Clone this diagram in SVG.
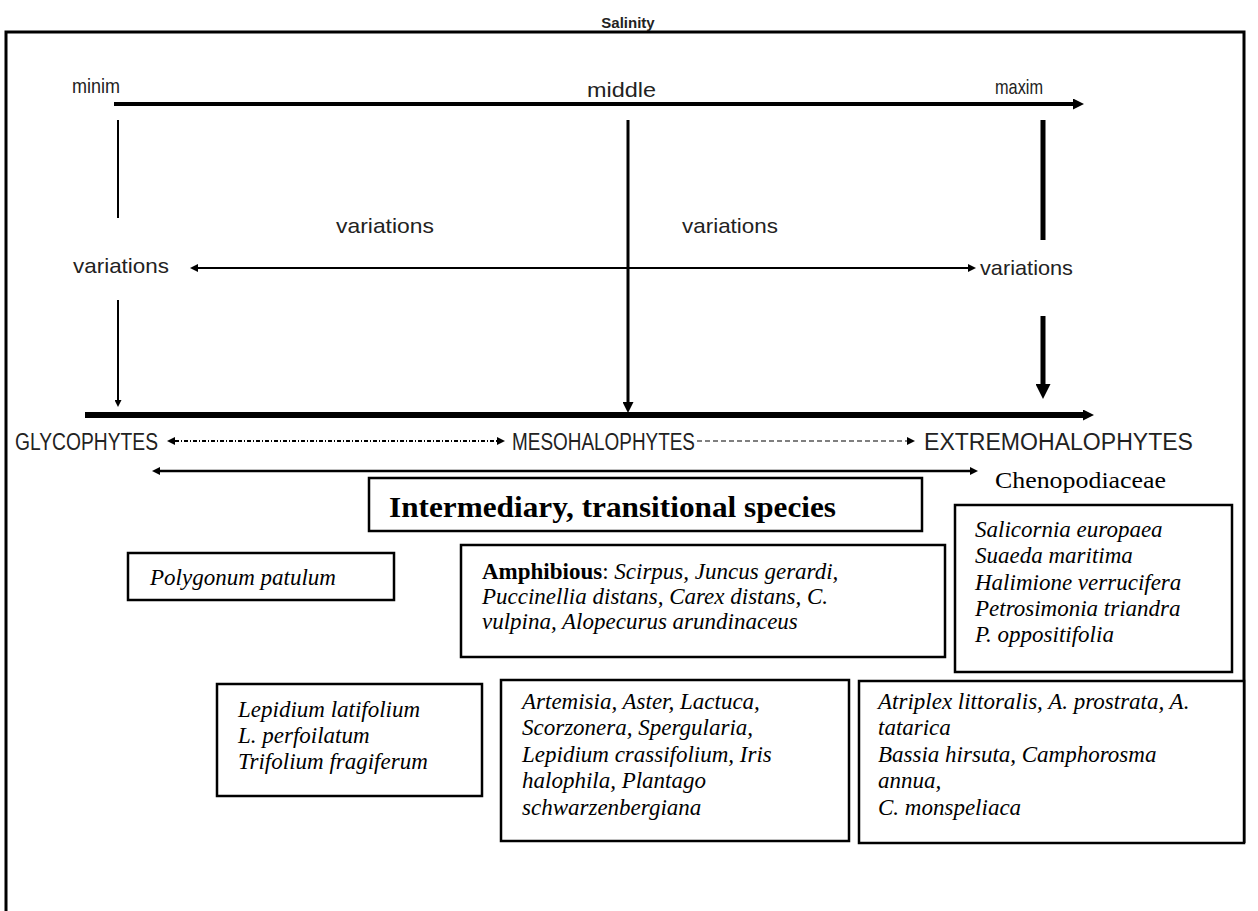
<svg xmlns="http://www.w3.org/2000/svg" width="1258" height="911" viewBox="0 0 1258 911">
<style>
.sans{font-family:"Liberation Sans",Arial,sans-serif;fill:#222;}
.lbl{font-size:21px;}
.cls{font-size:23px;}
.ser{font-family:"Liberation Serif","Times New Roman",serif;fill:#000;}
.it{font-style:italic;font-size:23px;}
.box{fill:#fff;stroke:#000;stroke-width:2.5;}
.ln{stroke:#000;fill:none;}
</style>
<defs>
<marker id="ms" viewBox="0 0 10 10" refX="0" refY="5" markerWidth="10" markerHeight="8" markerUnits="userSpaceOnUse" orient="auto-start-reverse"><path d="M0,0 L10,5 L0,10 z" fill="#000"/></marker>
<marker id="mt" viewBox="0 0 10 10" refX="0" refY="5" markerWidth="12" markerHeight="7" markerUnits="userSpaceOnUse" orient="auto-start-reverse"><path d="M0,0 L10,5 L0,10 z" fill="#000"/></marker>
<marker id="mm" viewBox="0 0 10 10" refX="0" refY="5" markerWidth="14" markerHeight="11" markerUnits="userSpaceOnUse" orient="auto-start-reverse"><path d="M0,0 L10,5 L0,10 z" fill="#000"/></marker>
<marker id="ml" viewBox="0 0 10 10" refX="0" refY="5" markerWidth="22" markerHeight="15" markerUnits="userSpaceOnUse" orient="auto-start-reverse"><path d="M0,0 L10,5 L0,10 z" fill="#000"/></marker>
</defs>
<rect width="1258" height="911" fill="#fff"/>
<g id="frame">
<path d="M6,915 L6,32 L1244,32 L1244,843" class="ln" stroke-width="3"/>
<text x="628" y="28" text-anchor="middle" class="sans" font-size="15" font-weight="bold">Salinity</text>
</g>
<g id="connectors">
<line x1="114" y1="104" x2="1073" y2="104" class="ln" stroke-width="4" marker-end="url(#mm)"/>
<line x1="118" y1="120" x2="118" y2="218" class="ln" stroke-width="2"/>
<line x1="118" y1="300" x2="118" y2="400" class="ln" stroke-width="2" marker-end="url(#mt)"/>
<line x1="628" y1="120" x2="628" y2="402" class="ln" stroke-width="3" marker-end="url(#mm)"/>
<line x1="1043" y1="120" x2="1043" y2="240" class="ln" stroke-width="5"/>
<line x1="1043" y1="316" x2="1043" y2="384" class="ln" stroke-width="5" marker-end="url(#ml)"/>
<line x1="198" y1="268" x2="968" y2="268" class="ln" stroke-width="2" marker-start="url(#ms)" marker-end="url(#ms)"/>
<line x1="85" y1="415" x2="1083" y2="415" class="ln" stroke-width="6" marker-end="url(#mm)"/>
<line x1="175" y1="441" x2="497" y2="441" class="ln" stroke-width="2" stroke-dasharray="4 2 1 2" marker-start="url(#ms)" marker-end="url(#ms)"/>
<line x1="697" y1="441" x2="907" y2="441" stroke="#555" stroke-width="1.5" stroke-dasharray="5 3" marker-end="url(#ms)"/>
<line x1="160" y1="471" x2="970" y2="471" class="ln" stroke-width="2.5" marker-start="url(#ms)" marker-end="url(#ms)"/>
</g>
<g id="labels">
<text x="72" y="93" class="sans lbl" textLength="48" lengthAdjust="spacingAndGlyphs">minim</text>
<text x="587" y="97" class="sans lbl" textLength="69" lengthAdjust="spacingAndGlyphs">middle</text>
<text x="995" y="94" class="sans lbl" textLength="48" lengthAdjust="spacingAndGlyphs">maxim</text>
<text x="336" y="233" class="sans lbl" textLength="98" lengthAdjust="spacingAndGlyphs">variations</text>
<text x="682" y="233" class="sans lbl" textLength="96" lengthAdjust="spacingAndGlyphs">variations</text>
<text x="73" y="273" class="sans lbl" textLength="96" lengthAdjust="spacingAndGlyphs">variations</text>
<text x="980" y="275" class="sans lbl" textLength="93" lengthAdjust="spacingAndGlyphs">variations</text>
</g>
<g id="glycophytes"><text x="15" y="450" class="sans cls" textLength="143" lengthAdjust="spacingAndGlyphs">GLYCOPHYTES</text></g>
<g id="mesohalophytes"><text x="512" y="450" class="sans cls" textLength="183" lengthAdjust="spacingAndGlyphs">MESOHALOPHYTES</text></g>
<g id="extremohalophytes"><text x="924" y="450" class="sans cls" textLength="269" lengthAdjust="spacingAndGlyphs">EXTREMOHALOPHYTES</text></g>
<g id="chenopodiaceae"><text x="995" y="488" class="ser" font-size="24" textLength="171" lengthAdjust="spacingAndGlyphs">Chenopodiaceae</text></g>
<g id="intermediary">
<rect x="369" y="478" width="553" height="53" class="box"/>
<text x="389" y="517" class="ser" font-size="29" font-weight="bold" textLength="447" lengthAdjust="spacingAndGlyphs">Intermediary, transitional species</text>
</g>
<g id="polygonum">
<rect x="128" y="553" width="266" height="47" class="box"/>
<text x="150" y="585" class="ser it">Polygonum patulum</text>
</g>
<g id="amphibious">
<rect x="461" y="545" width="484" height="112" class="box"/>
<text class="ser it"><tspan x="482" y="579"><tspan font-weight="bold" font-style="normal">Amphibious</tspan><tspan font-style="normal">: </tspan>Scirpus, Juncus gerardi,</tspan><tspan x="482" y="604">Puccinellia distans, Carex distans, C.</tspan><tspan x="482" y="629">vulpina, Alopecurus arundinaceus</tspan></text>
</g>
<g id="salicornia">
<rect x="955" y="505" width="277" height="167" class="box"/>
<text class="ser it"><tspan x="975" y="537">Salicornia europaea</tspan><tspan x="975" y="563">Suaeda maritima</tspan><tspan x="975" y="590">Halimione verrucifera</tspan><tspan x="975" y="616">Petrosimonia triandra</tspan><tspan x="975" y="642">P. oppositifolia</tspan></text>
</g>
<g id="lepidium">
<rect x="217" y="684" width="265" height="112" class="box"/>
<text class="ser it"><tspan x="238" y="717">Lepidium latifolium</tspan><tspan x="238" y="743">L. perfoilatum</tspan><tspan x="238" y="769">Trifolium fragiferum</tspan></text>
</g>
<g id="artemisia">
<rect x="501" y="680" width="348" height="161" class="box"/>
<text class="ser it"><tspan x="522" y="709">Artemisia, Aster, Lactuca,</tspan><tspan x="522" y="735">Scorzonera, Spergularia,</tspan><tspan x="522" y="762">Lepidium crassifolium, Iris</tspan><tspan x="522" y="788">halophila, Plantago</tspan><tspan x="522" y="815">schwarzenbergiana</tspan></text>
</g>
<g id="atriplex">
<rect x="859" y="681" width="385" height="162" class="box"/>
<text class="ser it"><tspan x="878" y="709">Atriplex littoralis, A. prostrata, A.</tspan><tspan x="878" y="735">tatarica</tspan><tspan x="878" y="762">Bassia hirsuta, Camphorosma</tspan><tspan x="878" y="788">annua,</tspan><tspan x="878" y="815">C. monspeliaca</tspan></text>
</g>
</svg>
